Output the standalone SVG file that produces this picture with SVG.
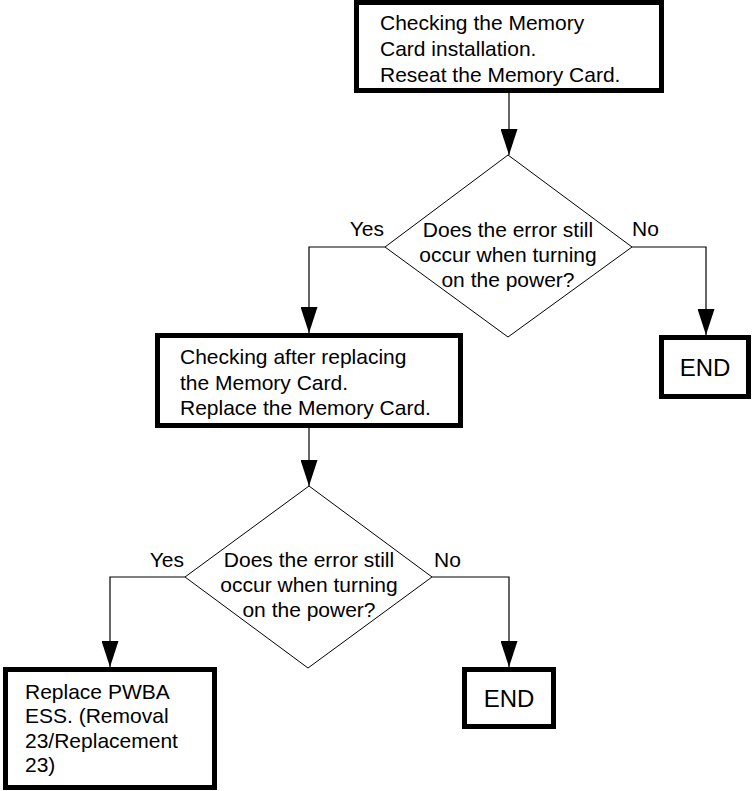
<svg xmlns="http://www.w3.org/2000/svg" width="752" height="791" viewBox="0 0 752 791">
<style>
text{font-family:"Liberation Sans",Arial,sans-serif;font-size:21px;fill:#000}
.box{fill:#fff;stroke:#000;stroke-width:5}
.dia{fill:#fff;stroke:#000;stroke-width:1}
.end{font-size:24px;text-anchor:middle}
.mid{text-anchor:middle}
.conn{fill:none;stroke:#000;stroke-width:1.2}
</style>
<defs>
<marker id="ah" viewBox="0 0 26 17" refX="26" refY="8.5" markerWidth="26" markerHeight="17" orient="auto" markerUnits="userSpaceOnUse">
<path d="M0,0 L26,8.5 L0,17 z" fill="#000"/>
</marker>
</defs>
<rect width="752" height="791" fill="#fff"/>
<g id="connectors">
<path class="conn" d="M509,93 L509,155" marker-end="url(#ah)"/>
<path class="conn" d="M385,247 L309,247 L309,333" marker-end="url(#ah)"/>
<path class="conn" d="M632,247 L706,247 L706,335" marker-end="url(#ah)"/>
<path class="conn" d="M309,428 L309,486" marker-end="url(#ah)"/>
<path class="conn" d="M185,577 L110,577 L110,667" marker-end="url(#ah)"/>
<path class="conn" d="M432,577 L509,577 L509,667" marker-end="url(#ah)"/>
<text x="384" y="236" text-anchor="end">Yes</text>
<text x="632" y="236">No</text>
<text x="184" y="567" text-anchor="end">Yes</text>
<text x="434" y="567">No</text>
</g>
<g id="box1">
<rect class="box" x="356.5" y="2.5" width="305" height="88"/>
<text x="380" y="30">Checking the Memory</text>
<text x="380" y="56">Card installation.</text>
<text x="380" y="82">Reseat the Memory Card.</text>
</g>
<g id="decision1">
<polygon class="dia" points="508,155 632,247 508,337 385,247"/>
<text class="mid" x="508" y="237">Does the error still</text>
<text class="mid" x="508" y="262">occur when turning</text>
<text class="mid" x="508" y="287">on the power?</text>
</g>
<g id="end1">
<rect class="box" x="661.5" y="337.5" width="87" height="59"/>
<text class="end" x="705" y="376">END</text>
</g>
<g id="box2">
<rect class="box" x="157.5" y="335.5" width="303" height="90"/>
<text x="180" y="364">Checking after replacing</text>
<text x="180" y="390">the Memory Card.</text>
<text x="180" y="415">Replace the Memory Card.</text>
</g>
<g id="decision2">
<polygon class="dia" points="309,486 432,577 308,668 185,577"/>
<text class="mid" x="309" y="567">Does the error still</text>
<text class="mid" x="309" y="592">occur when turning</text>
<text class="mid" x="309" y="617">on the power?</text>
</g>
<g id="end2">
<rect class="box" x="464.5" y="669.5" width="89" height="57"/>
<text class="end" x="509" y="707">END</text>
</g>
<g id="box3">
<rect class="box" x="5.5" y="669.5" width="209" height="118"/>
<text x="25" y="699">Replace PWBA</text>
<text x="25" y="723">ESS. (Removal</text>
<text x="25" y="748">23/Replacement</text>
<text x="25" y="772">23)</text>
</g>
</svg>
